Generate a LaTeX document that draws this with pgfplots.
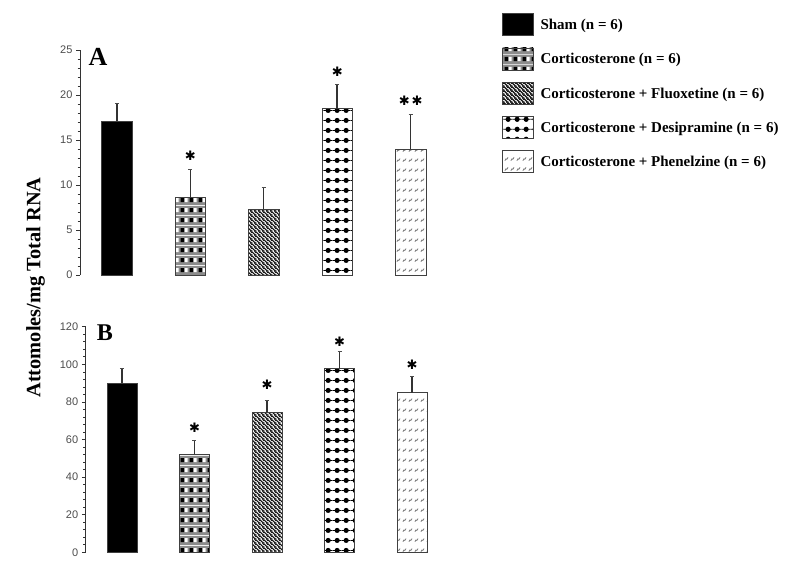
\documentclass[border=0pt]{standalone}
\usepackage{pgfplots}
\pgfplotsset{compat=1.18}
\usetikzlibrary{patterns}
\usepackage{fontspec}
\setmainfont{Liberation Serif}
\setsansfont{Liberation Sans}
\newfontfamily\symfont{DejaVu Sans}

% Corticosterone: grey grid with alternating black / white cells
\pgfdeclarepatterninherentlycolored{cortpat}{\pgfpointorigin}{\pgfqpoint{9pt}{10pt}}{\pgfqpoint{9pt}{10pt}}{%
  \pgfsetfillcolor{black!45}%
  \pgfpathrectangle{\pgfpointorigin}{\pgfqpoint{9pt}{10pt}}\pgfusepath{fill}%
  \pgfsetfillcolor{black}%
  \pgfpathrectangle{\pgfqpoint{0.8pt}{3pt}}{\pgfqpoint{3.4pt}{4.6pt}}\pgfusepath{fill}%
  \pgfsetfillcolor{white}%
  \pgfpathrectangle{\pgfqpoint{5.3pt}{3pt}}{\pgfqpoint{3pt}{4.6pt}}\pgfusepath{fill}%
}
% Fluoxetine: dense diagonal lines
\pgfdeclarepatterninherentlycolored{fluoxpat}{\pgfpointorigin}{\pgfqpoint{4pt}{4pt}}{\pgfqpoint{4pt}{4pt}}{%
  \pgfsetfillcolor{black!10}%
  \pgfpathrectangle{\pgfpointorigin}{\pgfqpoint{4pt}{4pt}}\pgfusepath{fill}%
  \pgfsetstrokecolor{black}\pgfsetlinewidth{1.2pt}%
  \pgfpathmoveto{\pgfqpoint{-1pt}{5pt}}\pgfpathlineto{\pgfqpoint{5pt}{-1pt}}%
  \pgfpathmoveto{\pgfqpoint{-1pt}{1pt}}\pgfpathlineto{\pgfqpoint{1pt}{-1pt}}%
  \pgfpathmoveto{\pgfqpoint{3pt}{5pt}}\pgfpathlineto{\pgfqpoint{5pt}{3pt}}%
  \pgfusepath{stroke}%
}
% Desipramine: black dots on white
\pgfdeclarepatterninherentlycolored{desippat}{\pgfpointorigin}{\pgfqpoint{9pt}{10pt}}{\pgfqpoint{9pt}{10pt}}{%
  \pgfsetfillcolor{white}%
  \pgfpathrectangle{\pgfpointorigin}{\pgfqpoint{9pt}{10pt}}\pgfusepath{fill}%
  \pgfsetfillcolor{black}\pgfsetstrokecolor{black}\pgfsetlinewidth{0.9pt}%
  \pgfpathcircle{\pgfqpoint{4.5pt}{5pt}}{2.8pt}\pgfusepath{fill}%
  \pgfpathmoveto{\pgfqpoint{0pt}{5pt}}\pgfpathlineto{\pgfqpoint{9pt}{5pt}}\pgfusepath{stroke}%
}
% Phenelzine: small grey slanted strokes
\pgfdeclarepatterninherentlycolored{phenpat}{\pgfpointorigin}{\pgfqpoint{6pt}{10pt}}{\pgfqpoint{6pt}{10pt}}{%
  \pgfsetfillcolor{white}%
  \pgfpathrectangle{\pgfpointorigin}{\pgfqpoint{6pt}{10pt}}\pgfusepath{fill}%
  \pgfsetstrokecolor{black!55}\pgfsetlinewidth{0.8pt}%
  \pgfpathmoveto{\pgfqpoint{1pt}{3.5pt}}\pgfpathlineto{\pgfqpoint{2.2pt}{5.5pt}}%
  \pgfpathlineto{\pgfqpoint{3.2pt}{5pt}}\pgfpathlineto{\pgfqpoint{4.6pt}{7pt}}\pgfusepath{stroke}%
}

\pgfplotsset{
  panel/.style={scale only axis, hide x axis, axis y line*=left,
    xmin=0.5, xmax=5.5, bar width=0.41, clip=false,
    tick align=outside, major tick length=4pt, minor tick length=2.5pt,
    minor y tick num=4,
    y axis line style={black!80, line width=0.8pt},
    ytick style={black!80, line width=0.6pt},
    yticklabel style={font=\sffamily\fontsize{11}{11}\selectfont, text=black!70},
    /pgf/number format/assume math mode=true},
  leg/.style={legend image code/.code={\draw[#1, line width=0.6pt, draw=black!75] (0pt,-6pt) rectangle (31pt,16pt);}},
  bar/.style={ybar, bar shift=0pt, draw=black!75, line width=0.6pt,
    error bars/.cd, y dir=plus, y explicit,
    error bar style={line width=1.5pt, black!80},
    error mark options={rotate=90, mark size=2pt, line width=0.8pt, black!70}},
  star/.style={only marks, mark=text, forget plot, text mark={\symfont\fontsize{13}{13}\selectfont ✱}},
  dstar/.style={only marks, mark=text, forget plot, text mark={\symfont\fontsize{13}{13}\selectfont ✱\kern2pt✱}},
}

\begin{document}
\begin{tikzpicture}
\useasboundingbox (0pt,0pt) rectangle (787pt,-574pt);

% Panel A
\begin{axis}[panel, at={(80pt,-275pt)}, anchor=south west,
  width=367.5pt, height=225pt, ymin=0, ymax=25, ytick={0,5,...,25},
  legend style={at={(axis description cs:1.1475,1.1644)}, anchor=north west,
    draw=none, fill=none, inner sep=0pt, row sep=11.7pt, column sep=7pt,
    nodes={inner sep=0pt, anchor=base west},
    font=\bfseries\fontsize{15}{15}\selectfont},
  legend cell align=left]
\addplot[fill=black, leg={fill=black}, bar] coordinates {(1,17.1) +- (0,2.0)};
\addlegendentry{Sham (n = 6)}
\addplot[pattern=cortpat, leg={pattern=cortpat}, bar] coordinates {(2,8.6) +- (0,3.1)};
\addlegendentry{Corticosterone (n = 6)}
\addplot[pattern=fluoxpat, leg={pattern=fluoxpat}, bar] coordinates {(3,7.3) +- (0,2.4)};
\addlegendentry{Corticosterone + Fluoxetine (n = 6)}
\addplot[pattern=desippat, leg={pattern=desippat}, bar] coordinates {(4,18.5) +- (0,2.7)};
\addlegendentry{Corticosterone + Desipramine (n = 6)}
\addplot[pattern=phenpat, leg={pattern=phenpat}, bar] coordinates {(5,14.0) +- (0,3.8)};
\addlegendentry{Corticosterone + Phenelzine (n = 6)}
\addplot[star] coordinates {(2,13.2) (4,22.6)};
\addplot[dstar] coordinates {(5,19.4)};
\end{axis}

% Panel B
\begin{axis}[panel, at={(85.75pt,-552.3pt)}, anchor=south west,
  width=362.5pt, height=225.6pt, ymin=0, ymax=120, ytick={0,20,...,120}]
\addplot[fill=black, bar] coordinates {(1,89.9) +- (0,8.0)};
\addplot[pattern=cortpat, bar] coordinates {(2,52.1) +- (0,7.6)};
\addplot[pattern=fluoxpat, bar] coordinates {(3,74.5) +- (0,6.5)};
\addplot[pattern=desippat, bar] coordinates {(4,97.9) +- (0,8.8)};
\addplot[pattern=phenpat, bar] coordinates {(5,84.9) +- (0,8.5)};
\addplot[star] coordinates {(2,66.1) (3,89.0) (4,112.0) (5,99.6)};
\end{axis}

\node[rotate=90, font=\bfseries\fontsize{20.4}{20.4}\selectfont] at (35.5pt,-287.5pt) {Attomoles/mg Total RNA};
\node[font=\bfseries\fontsize{26}{26}\selectfont] at (98pt,-57pt) {A};
\node[font=\bfseries\fontsize{24}{24}\selectfont] at (105pt,-333pt) {B};
\end{tikzpicture}
\end{document}
